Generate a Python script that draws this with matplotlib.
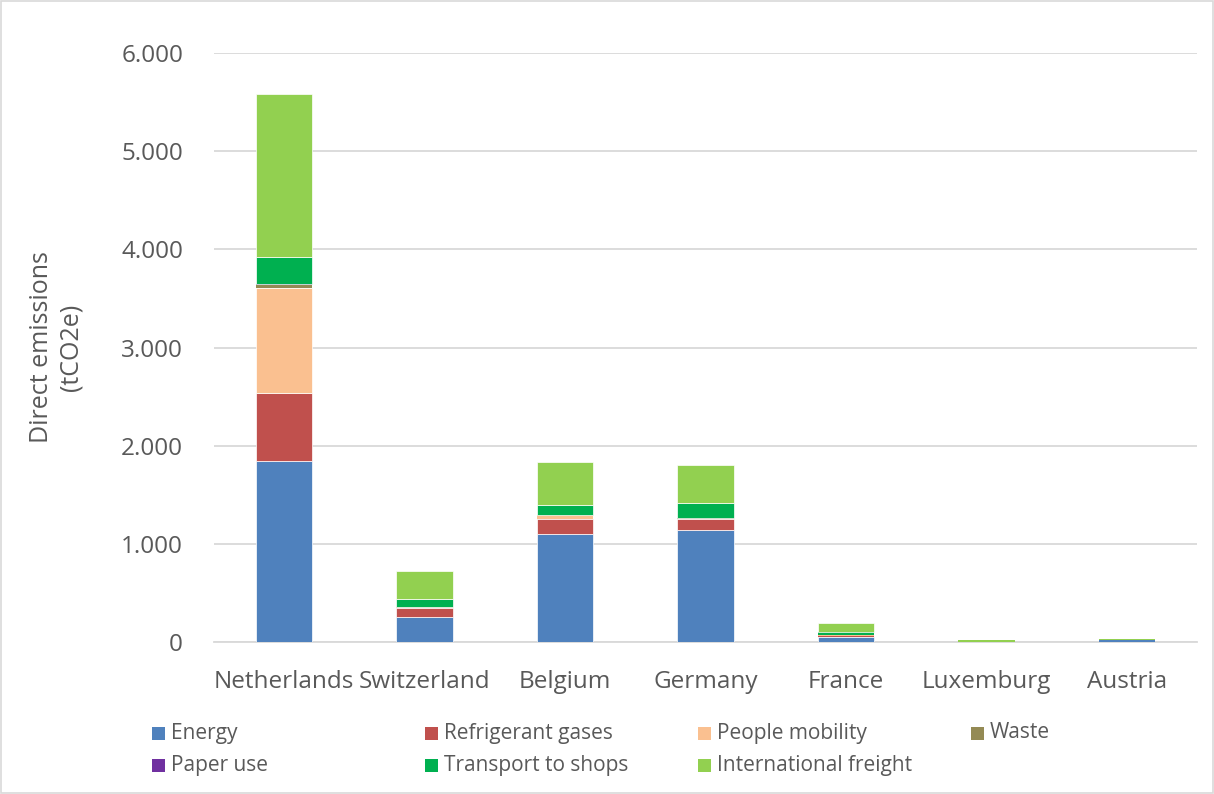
import numpy as np
import matplotlib.pyplot as plt
from matplotlib.patches import Rectangle
from matplotlib.ticker import FuncFormatter

plt.rcParams['font.family'] = ['Open Sans', 'DejaVu Sans']

countries = ['Netherlands', 'Switzerland', 'Belgium', 'Germany', 'France', 'Luxemburg', 'Austria']

# tCO2e per source
energy = [1843, 252, 1097, 1137, 48, 3, 18]
refrigerant = [693, 95, 159, 116, 16, 0, 2]
people_mobility = [1069, 8, 34, 5, 3, 0, 0]
waste = [30, 0, 3, 2, 0, 0, 0]
paper_use = [10, 0, 1, 1, 2, 0, 0]
transport = [275, 88, 101, 152, 31, 2, 5]
freight = [1666, 285, 439, 394, 91, 18, 10]

series = [
   ('Energy', energy, '#4F81BD'),
   ('Refrigerant gases', refrigerant, '#C0504D'),
   ('People mobility', people_mobility, '#FAC090'),
   ('Waste', waste, '#948A54'),
   ('Paper use', paper_use, '#7030A0'),
   ('Transport to shops', transport, '#00B050'),
   ('International freight', freight, '#92D050'),
]

text_col = '#595959'
grid_col = '#D9D9D9'

fig = plt.figure(figsize=(12.14, 7.94), dpi=100)
ax = fig.add_axes([0.176, 0.1914, 0.8103, 0.7418])

x = np.arange(len(countries))
bottom = np.zeros(len(countries))
for name, vals, col in series:
   vals = np.array(vals, dtype=float)
   # thin white seams only where the segment is big enough to show them
   lw = np.where(vals > 40, 0.5, 0.0)
   ax.bar(x, vals, 0.4, bottom=bottom, color=col, edgecolor='white', linewidth=lw, zorder=3)
   bottom += vals

ax.set_xlim(-0.5, len(countries) - 0.5)
ax.set_ylim(0, 6000)
ax.set_yticks(np.arange(0, 6001, 1000))
ax.yaxis.set_major_formatter(FuncFormatter(lambda v, p: f'{int(v):,}'.replace(',', '.')))
ax.set_xticks(x)
ax.set_xticklabels(countries)
ax.tick_params(length=0, labelsize=17.5, labelcolor=text_col)
ax.tick_params(axis='y', pad=22)
ax.tick_params(axis='x', pad=20)
ax.grid(axis='y', color=grid_col, linewidth=1.3, zorder=0)
for s in ['top', 'right', 'left']:
   ax.spines[s].set_visible(False)
ax.spines['bottom'].set_color(grid_col)
ax.spines['bottom'].set_linewidth(1.3)

fig.text(56 / 1214, 1 - 347 / 794, 'Direct emissions\n(tCO2e)', rotation=90,
         ha='center', va='center', fontsize=18, color=text_col, linespacing=1.25)

# legend, Excel style: four equal columns, two rows
col_x = [152, 425, 698, 971]
row_y = [733, 765]
for i, (name, vals, col) in enumerate(series):
   cx = col_x[i % 4]
   cy = row_y[i // 4]
   fig.patches.append(Rectangle((cx / 1214, 1 - (cy + 6.5) / 794), 13 / 1214, 13 / 794,
                                transform=fig.transFigure, facecolor=col, edgecolor='none'))
   fig.text((cx + 19) / 1214, 1 - cy / 794, name, ha='left', va='center',
            fontsize=15, color=text_col)

fig.patches.append(Rectangle((0.001, 0.001), 0.998, 0.998, transform=fig.transFigure,
                             fill=False, edgecolor=grid_col, linewidth=1.2))

plt.savefig('out.png', dpi=100)
